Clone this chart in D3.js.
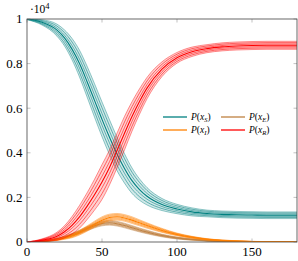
<!DOCTYPE html>
<html><head><meta charset="utf-8">
<script src="https://cdn.jsdelivr.net/npm/d3@7"></script>
<style>body{margin:0;background:#fff}svg{display:block}</style>
</head><body><svg id="c" width="298" height="261"></svg>
<script>
const times = [0,10,20,25,30,35,40,45,50,55,60,65,70,75,80,90,100,110,120,130,140,150,160,170,180];
const meanS = [1.0,0.985,0.95,0.915,0.865,0.80,0.72,0.635,0.55,0.47,0.395,0.33,0.275,0.235,0.205,0.168,0.148,0.135,0.128,0.124,0.122,0.121,0.12,0.12,0.12];
const meanE = [0.0,0.004,0.013,0.021,0.032,0.045,0.06,0.073,0.083,0.086,0.082,0.074,0.064,0.054,0.045,0.029,0.018,0.011,0.006,0.003,0.0015,0.0007,0.0003,0.0001,0];
const meanI = [0.0003,0.003,0.011,0.018,0.028,0.042,0.06,0.08,0.098,0.11,0.113,0.108,0.098,0.086,0.074,0.052,0.034,0.021,0.012,0.007,0.004,0.002,0.001,0.0005,0.0002];
const meanR = [0,0.008,0.026,0.046,0.075,0.113,0.16,0.212,0.269,0.334,0.41,0.488,0.563,0.63,0.69,0.775,0.826,0.853,0.867,0.875,0.879,0.881,0.882,0.882,0.882];
const spreadS = [0.001,0.004,0.009,0.012,0.016,0.02,0.023,0.025,0.026,0.026,0.025,0.022,0.019,0.016,0.013,0.009,0.007,0.006,0.005,0.005,0.005,0.005,0.005,0.005,0.005];
const spreadE = [0,0.0004,0.001,0.0015,0.002,0.0025,0.003,0.0033,0.0035,0.0035,0.0035,0.0035,0.0033,0.003,0.0027,0.002,0.0015,0.001,0.0007,0.0004,0.0003,0.0002,0.0001,0.0001,0];
const spreadI = [0,0.0005,0.0015,0.002,0.003,0.0035,0.004,0.0045,0.005,0.005,0.005,0.005,0.005,0.0045,0.004,0.003,0.002,0.0015,0.001,0.0007,0.0005,0.0003,0.0002,0.0001,0.0001];
const spreadR = [0,0.002,0.006,0.009,0.013,0.017,0.02,0.023,0.026,0.026,0.026,0.025,0.022,0.019,0.016,0.011,0.008,0.007,0.006,0.006,0.006,0.006,0.006,0.006,0.006];
const seriesNames = ["S","E","I","R"];
const seriesColors = ["#008080","#bf8040","#ff8000","#ff0000"];
const xTicks = [0,50,100,150];
const yTicks = [0,0.2,0.4,0.6,0.8,1];
const yTickLabels = ["0","0.2","0.4","0.6","0.8","1"];

const FONT = "'Liberation Serif', 'DejaVu Serif', serif";
const svg = d3.select("#c").attr("font-family", FONT);
const L=27,R=297,T=19,B=242;
const x = d3.scaleLinear().domain([0,180]).range([L,R]);
const y = d3.scaleLinear().domain([0,1]).range([B,T]);

svg.append("defs").append("clipPath").attr("id","clip").append("rect")
  .attr("x",L).attr("y",T).attr("width",R-L).attr("height",B-T);

const means=[meanS,meanE,meanI,meanR], spreads=[spreadS,spreadE,spreadI,spreadR];
const g = svg.append("g").attr("clip-path","url(#clip)");
means.forEach((m,si)=>{
  const sp=spreads[si], col=seriesColors[si];
  const area=d3.area().curve(d3.curveMonotoneX).x((d,i)=>x(times[i]))
    .y0((d,i)=>y(m[i]-3*sp[i])).y1((d,i)=>y(m[i]+3*sp[i]));
  g.append("path").attr("d",area(m)).attr("fill",col).attr("opacity",0.18);
  [-3,-2,-1,1,2,3].forEach(k=>{
    const line=d3.line().curve(d3.curveMonotoneX).x((d,i)=>x(times[i])).y((d,i)=>y(m[i]+k*sp[i]));
    g.append("path").attr("d",line(m)).attr("fill","none").attr("stroke",col)
      .attr("stroke-width",0.7).attr("opacity",Math.abs(k)===3?0.6:0.8);
  });
  const line=d3.line().curve(d3.curveMonotoneX).x((d,i)=>x(times[i])).y((d,i)=>y(m[i]));
  g.append("path").attr("d",line(m)).attr("fill","none").attr("stroke",col).attr("stroke-width",1.1);
});

const ax = svg.append("g");
xTicks.forEach(t=>{
  ax.append("line").attr("x1",x(t)).attr("x2",x(t)).attr("y1",B).attr("y2",B-3.5).attr("stroke","#999").attr("stroke-width",0.6);
  ax.append("line").attr("x1",x(t)).attr("x2",x(t)).attr("y1",T).attr("y2",T+3.5).attr("stroke","#999").attr("stroke-width",0.6);
  ax.append("text").attr("x",x(t)).attr("y",256).attr("text-anchor","middle").attr("font-size",13).attr("font-family",FONT).text(t);
});
yTicks.forEach((t,i)=>{
  ax.append("line").attr("x1",L).attr("x2",L+3.5).attr("y1",y(t)).attr("y2",y(t)).attr("stroke","#999").attr("stroke-width",0.6);
  ax.append("line").attr("x1",R).attr("x2",R-3.5).attr("y1",y(t)).attr("y2",y(t)).attr("stroke","#999").attr("stroke-width",0.6);
  ax.append("text").attr("x",22.5).attr("y",y(t)+4.3).attr("text-anchor","end").attr("font-size",13).attr("font-family",FONT).text(yTickLabels[i]);
});
ax.append("rect").attr("x",L).attr("y",T).attr("width",R-L).attr("height",B-T)
  .attr("fill","none").attr("stroke","#444").attr("stroke-width",0.8);

const ex = ax.append("text").attr("x",30).attr("y",13).attr("font-size",11.5).attr("font-family",FONT);
ex.append("tspan").text("·10");
ex.append("tspan").attr("dy",-4.5).attr("font-size",8.5).text("4");

const legPos=[[163,117],[221,117],[163,130],[221,130]];
[0,1,2,3].forEach((si,j)=>{
  const [lx,ly]=legPos[j];
  svg.append("line").attr("x1",lx).attr("x2",lx+24).attr("y1",ly).attr("y2",ly)
    .attr("stroke",seriesColors[si]).attr("stroke-width",1.3);
  const t=svg.append("text").attr("x",lx+28).attr("y",ly+2.8).attr("font-size",9.5).attr("font-family",FONT);
  t.append("tspan").attr("font-style","italic").text("P");
  t.append("tspan").text("(");
  t.append("tspan").attr("font-style","italic").text("x");
  t.append("tspan").attr("font-style","italic").attr("font-size",6.5).attr("dy",2).text(seriesNames[si]);
  t.append("tspan").attr("dy",-2).text(")");
});
</script></body></html>
